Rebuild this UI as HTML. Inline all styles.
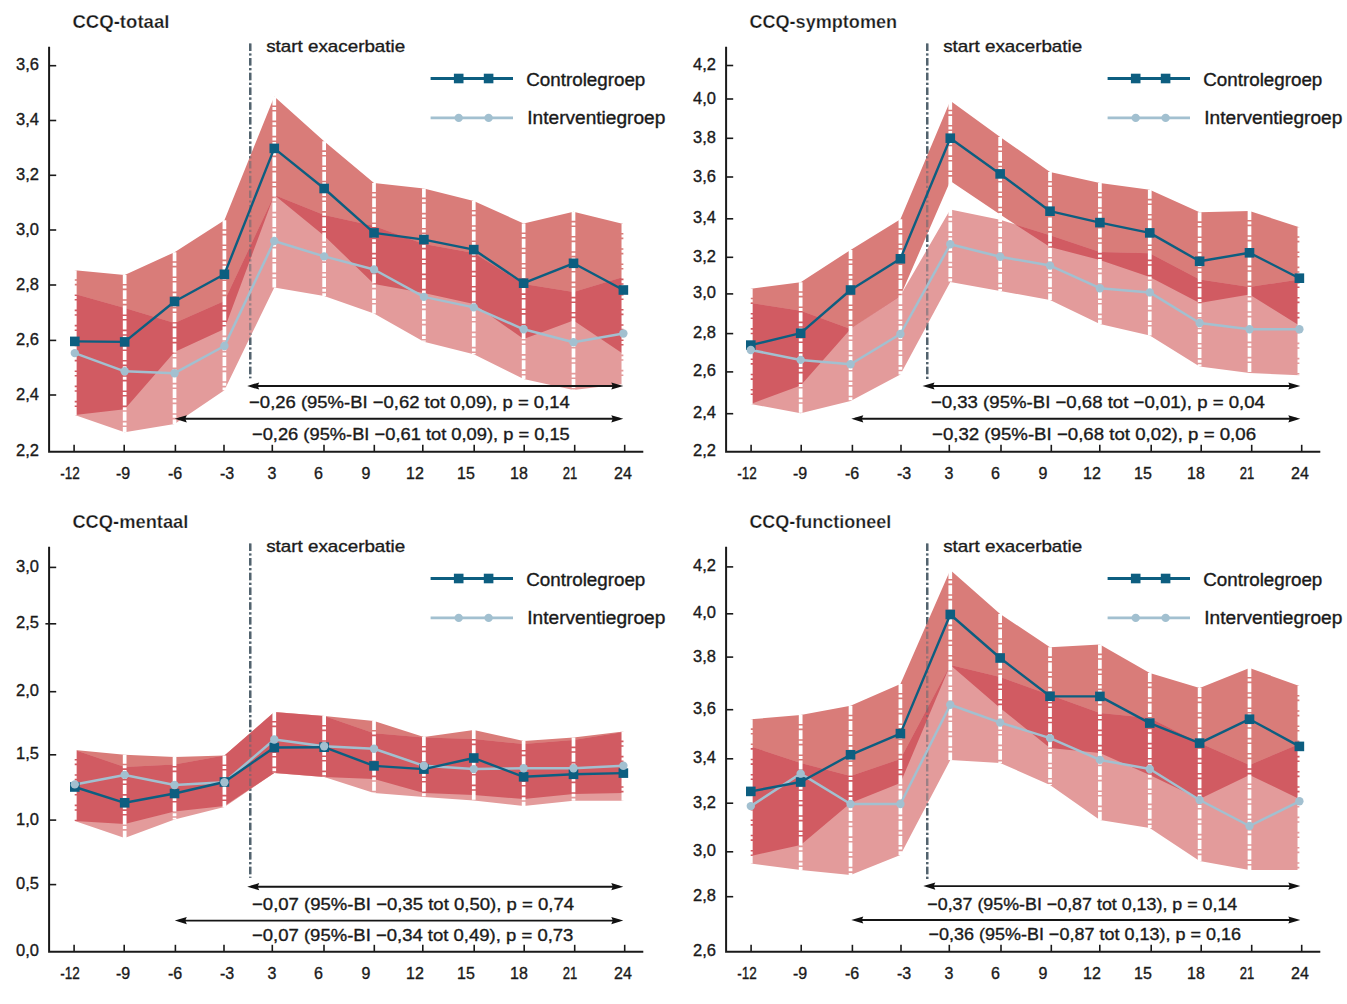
<!DOCTYPE html>
<html><head><meta charset="utf-8"><style>
html,body{margin:0;padding:0;background:#fff;}
svg{display:block;font-family:"Liberation Sans", sans-serif;}
</style></head><body>
<svg width="1347" height="1004" viewBox="0 0 1347 1004">
<rect width="1347" height="1004" fill="#fff"/>
<line x1="250.2" y1="43.4" x2="250.2" y2="378.3" stroke="#4f606c" stroke-width="2.4" stroke-dasharray="7.5 2.5 2.2 2.5"/>
<clipPath id="cb0"><polygon points="74.8,270.2 124.67,275 174.54,252.2 224.41,220.2 274.28,96.4 324.15,141.3 374.02,183 423.89,188.6 473.76,201 523.63,223.5 573.5,211.8 623.37,224 623.37,354 573.5,320.6 523.63,339 473.76,304 423.89,293 374.02,284 324.15,235.7 274.28,195 224.41,329 174.54,352 124.67,409.2 74.8,415"/></clipPath>
<polygon points="74.8,270.2 124.67,275 174.54,252.2 224.41,220.2 274.28,96.4 324.15,141.3 374.02,183 423.89,188.6 473.76,201 523.63,223.5 573.5,211.8 623.37,224 623.37,354 573.5,320.6 523.63,339 473.76,304 423.89,293 374.02,284 324.15,235.7 274.28,195 224.41,329 174.54,352 124.67,409.2 74.8,415" fill="#d97c79"/>
<polygon points="74.8,294 124.67,308 174.54,323 224.41,301 274.28,195 324.15,215 374.02,226 423.89,244 473.76,253 523.63,284 573.5,292 623.37,277 623.37,384 573.5,390 523.63,379 473.76,354.2 423.89,341.7 374.02,313.6 324.15,296 274.28,287.4 224.41,390.3 174.54,424.1 124.67,432.3 74.8,415" fill="#e39b9b"/>
<polygon points="74.8,294 124.67,308 174.54,323 224.41,301 274.28,195 324.15,215 374.02,226 423.89,244 473.76,253 523.63,284 573.5,292 623.37,277 623.37,384 573.5,390 523.63,379 473.76,354.2 423.89,341.7 374.02,313.6 324.15,296 274.28,287.4 224.41,390.3 174.54,424.1 124.67,432.3 74.8,415" fill="#d15b62" clip-path="url(#cb0)"/>
<line x1="250.2" y1="43.4" x2="250.2" y2="378.3" stroke="#56656f" stroke-opacity="0.5" stroke-width="2.4" stroke-dasharray="7.5 2.5 2.2 2.5"/>
<line x1="74.8" y1="270.2" x2="74.8" y2="415" stroke="#fff" stroke-width="3.7" stroke-dasharray="9 1.6 3 1.6"/>
<line x1="124.67" y1="275" x2="124.67" y2="432.3" stroke="#fff" stroke-width="3.7" stroke-dasharray="9 1.6 3 1.6"/>
<line x1="174.54" y1="252.2" x2="174.54" y2="424.1" stroke="#fff" stroke-width="3.7" stroke-dasharray="9 1.6 3 1.6"/>
<line x1="224.41" y1="220.2" x2="224.41" y2="390.3" stroke="#fff" stroke-width="3.7" stroke-dasharray="9 1.6 3 1.6"/>
<line x1="274.28" y1="96.4" x2="274.28" y2="287.4" stroke="#fff" stroke-width="3.7" stroke-dasharray="9 1.6 3 1.6"/>
<line x1="324.15" y1="141.3" x2="324.15" y2="296" stroke="#fff" stroke-width="3.7" stroke-dasharray="9 1.6 3 1.6"/>
<line x1="374.02" y1="183" x2="374.02" y2="313.6" stroke="#fff" stroke-width="3.7" stroke-dasharray="9 1.6 3 1.6"/>
<line x1="423.89" y1="188.6" x2="423.89" y2="341.7" stroke="#fff" stroke-width="3.7" stroke-dasharray="9 1.6 3 1.6"/>
<line x1="473.76" y1="201" x2="473.76" y2="354.2" stroke="#fff" stroke-width="3.7" stroke-dasharray="9 1.6 3 1.6"/>
<line x1="523.63" y1="223.5" x2="523.63" y2="379" stroke="#fff" stroke-width="3.7" stroke-dasharray="9 1.6 3 1.6"/>
<line x1="573.5" y1="211.8" x2="573.5" y2="390" stroke="#fff" stroke-width="3.7" stroke-dasharray="9 1.6 3 1.6"/>
<line x1="623.37" y1="224" x2="623.37" y2="384" stroke="#fff" stroke-width="3.7" stroke-dasharray="9 1.6 3 1.6"/>
<polyline points="74.8,353.1 124.67,371.3 174.54,373.2 224.41,346 274.28,241 324.15,256.4 374.02,269.5 423.89,296.9 473.76,307.4 523.63,329.3 573.5,342.2 623.37,333.5" fill="none" stroke="#a2c0d0" stroke-width="2.5" stroke-linejoin="round"/>
<polyline points="74.8,341.4 124.67,341.9 174.54,301.5 224.41,274.3 274.28,148.4 324.15,188.5 374.02,232.9 423.89,239.6 473.76,249.6 523.63,283.2 573.5,263.3 623.37,290" fill="none" stroke="#0d5e80" stroke-width="2.4" stroke-linejoin="round"/>
<rect x="70" y="336.6" width="9.6" height="9.6" fill="#0d5e80"/>
<rect x="119.87" y="337.1" width="9.6" height="9.6" fill="#0d5e80"/>
<rect x="169.74" y="296.7" width="9.6" height="9.6" fill="#0d5e80"/>
<rect x="219.61" y="269.5" width="9.6" height="9.6" fill="#0d5e80"/>
<rect x="269.48" y="143.6" width="9.6" height="9.6" fill="#0d5e80"/>
<rect x="319.35" y="183.7" width="9.6" height="9.6" fill="#0d5e80"/>
<rect x="369.22" y="228.1" width="9.6" height="9.6" fill="#0d5e80"/>
<rect x="419.09" y="234.8" width="9.6" height="9.6" fill="#0d5e80"/>
<rect x="468.96" y="244.8" width="9.6" height="9.6" fill="#0d5e80"/>
<rect x="518.83" y="278.4" width="9.6" height="9.6" fill="#0d5e80"/>
<rect x="568.7" y="258.5" width="9.6" height="9.6" fill="#0d5e80"/>
<rect x="618.57" y="285.2" width="9.6" height="9.6" fill="#0d5e80"/>
<circle cx="74.8" cy="353.1" r="4.2" fill="#a2c0d0"/>
<circle cx="124.67" cy="371.3" r="4.2" fill="#a2c0d0"/>
<circle cx="174.54" cy="373.2" r="4.2" fill="#a2c0d0"/>
<circle cx="224.41" cy="346" r="4.2" fill="#a2c0d0"/>
<circle cx="274.28" cy="241" r="4.2" fill="#a2c0d0"/>
<circle cx="324.15" cy="256.4" r="4.2" fill="#a2c0d0"/>
<circle cx="374.02" cy="269.5" r="4.2" fill="#a2c0d0"/>
<circle cx="423.89" cy="296.9" r="4.2" fill="#a2c0d0"/>
<circle cx="473.76" cy="307.4" r="4.2" fill="#a2c0d0"/>
<circle cx="523.63" cy="329.3" r="4.2" fill="#a2c0d0"/>
<circle cx="573.5" cy="342.2" r="4.2" fill="#a2c0d0"/>
<circle cx="623.37" cy="333.5" r="4.2" fill="#a2c0d0"/>
<line x1="251.2" y1="386" x2="619.3" y2="386" stroke="#151515" stroke-width="1.9"/>
<path d="M247.2 386l12 -3.6l-1.5 3.6l1.5 3.6z" fill="#111"/>
<path d="M623.3 386l-12 -3.6l1.5 3.6l-1.5 3.6z" fill="#111"/>
<text x="249.1" y="408" font-size="17" textLength="320.7" lengthAdjust="spacingAndGlyphs" fill="#1a1a1a" stroke="#1a1a1a" stroke-width="0.35">−0,26 (95%-BI −0,62 tot 0,09), p = 0,14</text>
<line x1="178.8" y1="418.8" x2="619.3" y2="418.8" stroke="#151515" stroke-width="1.9"/>
<path d="M174.8 418.8l12 -3.6l-1.5 3.6l1.5 3.6z" fill="#111"/>
<path d="M623.3 418.8l-12 -3.6l1.5 3.6l-1.5 3.6z" fill="#111"/>
<text x="252" y="439.5" font-size="17" textLength="317.8" lengthAdjust="spacingAndGlyphs" fill="#1a1a1a" stroke="#1a1a1a" stroke-width="0.35">−0,26 (95%-BI −0,61 tot 0,09), p = 0,15</text>
<line x1="927.2" y1="43.4" x2="927.2" y2="379" stroke="#4f606c" stroke-width="2.4" stroke-dasharray="7.5 2.5 2.2 2.5"/>
<clipPath id="cb1"><polygon points="750.8,288.7 800.67,282.2 850.54,249.9 900.41,219.3 950.28,100.7 1000.15,136.9 1050.02,171.9 1099.89,183 1149.76,189.8 1199.63,212.3 1249.5,211 1299.37,227.2 1299.37,325.5 1249.5,294.4 1199.63,303.1 1149.76,277 1099.89,260 1050.02,247 1000.15,214.6 950.28,180.9 900.41,296 850.54,329 800.67,385.5 750.8,404"/></clipPath>
<polygon points="750.8,288.7 800.67,282.2 850.54,249.9 900.41,219.3 950.28,100.7 1000.15,136.9 1050.02,171.9 1099.89,183 1149.76,189.8 1199.63,212.3 1249.5,211 1299.37,227.2 1299.37,325.5 1249.5,294.4 1199.63,303.1 1149.76,277 1099.89,260 1050.02,247 1000.15,214.6 950.28,180.9 900.41,296 850.54,329 800.67,385.5 750.8,404" fill="#d97c79"/>
<polygon points="750.8,302.9 800.67,310.7 850.54,329 900.41,295.5 950.28,209.4 1000.15,219.7 1050.02,235.3 1099.89,252 1149.76,253.3 1199.63,279.5 1249.5,287 1299.37,279.5 1299.37,375.3 1249.5,372.9 1199.63,366.6 1149.76,335.5 1099.89,324 1050.02,300 1000.15,290.9 950.28,281.9 900.41,374.5 850.54,401 800.67,413.3 750.8,404" fill="#e39b9b"/>
<polygon points="750.8,302.9 800.67,310.7 850.54,329 900.41,295.5 950.28,209.4 1000.15,219.7 1050.02,235.3 1099.89,252 1149.76,253.3 1199.63,279.5 1249.5,287 1299.37,279.5 1299.37,375.3 1249.5,372.9 1199.63,366.6 1149.76,335.5 1099.89,324 1050.02,300 1000.15,290.9 950.28,281.9 900.41,374.5 850.54,401 800.67,413.3 750.8,404" fill="#d15b62" clip-path="url(#cb1)"/>
<line x1="927.2" y1="43.4" x2="927.2" y2="379" stroke="#56656f" stroke-opacity="0.5" stroke-width="2.4" stroke-dasharray="7.5 2.5 2.2 2.5"/>
<line x1="750.8" y1="288.7" x2="750.8" y2="404" stroke="#fff" stroke-width="3.7" stroke-dasharray="9 1.6 3 1.6"/>
<line x1="800.67" y1="282.2" x2="800.67" y2="413.3" stroke="#fff" stroke-width="3.7" stroke-dasharray="9 1.6 3 1.6"/>
<line x1="850.54" y1="249.9" x2="850.54" y2="401" stroke="#fff" stroke-width="3.7" stroke-dasharray="9 1.6 3 1.6"/>
<line x1="900.41" y1="219.3" x2="900.41" y2="374.5" stroke="#fff" stroke-width="3.7" stroke-dasharray="9 1.6 3 1.6"/>
<line x1="950.28" y1="100.7" x2="950.28" y2="281.9" stroke="#fff" stroke-width="3.7" stroke-dasharray="9 1.6 3 1.6"/>
<line x1="1000.15" y1="136.9" x2="1000.15" y2="290.9" stroke="#fff" stroke-width="3.7" stroke-dasharray="9 1.6 3 1.6"/>
<line x1="1050.02" y1="171.9" x2="1050.02" y2="300" stroke="#fff" stroke-width="3.7" stroke-dasharray="9 1.6 3 1.6"/>
<line x1="1099.89" y1="183" x2="1099.89" y2="324" stroke="#fff" stroke-width="3.7" stroke-dasharray="9 1.6 3 1.6"/>
<line x1="1149.76" y1="189.8" x2="1149.76" y2="335.5" stroke="#fff" stroke-width="3.7" stroke-dasharray="9 1.6 3 1.6"/>
<line x1="1199.63" y1="212.3" x2="1199.63" y2="366.6" stroke="#fff" stroke-width="3.7" stroke-dasharray="9 1.6 3 1.6"/>
<line x1="1249.5" y1="211" x2="1249.5" y2="372.9" stroke="#fff" stroke-width="3.7" stroke-dasharray="9 1.6 3 1.6"/>
<line x1="1299.37" y1="227.2" x2="1299.37" y2="375.3" stroke="#fff" stroke-width="3.7" stroke-dasharray="9 1.6 3 1.6"/>
<polyline points="750.8,350 800.67,359.9 850.54,364.3 900.41,334 950.28,244.3 1000.15,256.8 1050.02,265.6 1099.89,288.2 1149.76,292.4 1199.63,323 1249.5,329.3 1299.37,329.3" fill="none" stroke="#a2c0d0" stroke-width="2.5" stroke-linejoin="round"/>
<polyline points="750.8,345.1 800.67,333.2 850.54,290 900.41,258.8 950.28,138.2 1000.15,173.9 1050.02,211.2 1099.89,222.6 1149.76,232.9 1199.63,261.3 1249.5,252.8 1299.37,278.2" fill="none" stroke="#0d5e80" stroke-width="2.4" stroke-linejoin="round"/>
<rect x="746" y="340.3" width="9.6" height="9.6" fill="#0d5e80"/>
<rect x="795.87" y="328.4" width="9.6" height="9.6" fill="#0d5e80"/>
<rect x="845.74" y="285.2" width="9.6" height="9.6" fill="#0d5e80"/>
<rect x="895.61" y="254" width="9.6" height="9.6" fill="#0d5e80"/>
<rect x="945.48" y="133.4" width="9.6" height="9.6" fill="#0d5e80"/>
<rect x="995.35" y="169.1" width="9.6" height="9.6" fill="#0d5e80"/>
<rect x="1045.22" y="206.4" width="9.6" height="9.6" fill="#0d5e80"/>
<rect x="1095.09" y="217.8" width="9.6" height="9.6" fill="#0d5e80"/>
<rect x="1144.96" y="228.1" width="9.6" height="9.6" fill="#0d5e80"/>
<rect x="1194.83" y="256.5" width="9.6" height="9.6" fill="#0d5e80"/>
<rect x="1244.7" y="248" width="9.6" height="9.6" fill="#0d5e80"/>
<rect x="1294.57" y="273.4" width="9.6" height="9.6" fill="#0d5e80"/>
<circle cx="750.8" cy="350" r="4.2" fill="#a2c0d0"/>
<circle cx="800.67" cy="359.9" r="4.2" fill="#a2c0d0"/>
<circle cx="850.54" cy="364.3" r="4.2" fill="#a2c0d0"/>
<circle cx="900.41" cy="334" r="4.2" fill="#a2c0d0"/>
<circle cx="950.28" cy="244.3" r="4.2" fill="#a2c0d0"/>
<circle cx="1000.15" cy="256.8" r="4.2" fill="#a2c0d0"/>
<circle cx="1050.02" cy="265.6" r="4.2" fill="#a2c0d0"/>
<circle cx="1099.89" cy="288.2" r="4.2" fill="#a2c0d0"/>
<circle cx="1149.76" cy="292.4" r="4.2" fill="#a2c0d0"/>
<circle cx="1199.63" cy="323" r="4.2" fill="#a2c0d0"/>
<circle cx="1249.5" cy="329.3" r="4.2" fill="#a2c0d0"/>
<circle cx="1299.37" cy="329.3" r="4.2" fill="#a2c0d0"/>
<line x1="926.5" y1="386" x2="1296.3" y2="386" stroke="#151515" stroke-width="1.9"/>
<path d="M922.5 386l12 -3.6l-1.5 3.6l1.5 3.6z" fill="#111"/>
<path d="M1300.3 386l-12 -3.6l1.5 3.6l-1.5 3.6z" fill="#111"/>
<text x="930.9" y="408" font-size="17" textLength="334" lengthAdjust="spacingAndGlyphs" fill="#1a1a1a" stroke="#1a1a1a" stroke-width="0.35">−0,33 (95%-BI −0,68 tot −0,01), p = 0,04</text>
<line x1="855.3" y1="418.8" x2="1296.3" y2="418.8" stroke="#151515" stroke-width="1.9"/>
<path d="M851.3 418.8l12 -3.6l-1.5 3.6l1.5 3.6z" fill="#111"/>
<path d="M1300.3 418.8l-12 -3.6l1.5 3.6l-1.5 3.6z" fill="#111"/>
<text x="932" y="439.5" font-size="17" textLength="324" lengthAdjust="spacingAndGlyphs" fill="#1a1a1a" stroke="#1a1a1a" stroke-width="0.35">−0,32 (95%-BI −0,68 tot 0,02), p = 0,06</text>
<line x1="250.2" y1="543.4" x2="250.2" y2="877.8" stroke="#4f606c" stroke-width="2.4" stroke-dasharray="7.5 2.5 2.2 2.5"/>
<clipPath id="cb2"><polygon points="74.8,750 124.67,754.7 174.54,757 224.41,755.4 274.28,712 324.15,716 374.02,721 423.89,737 473.76,730 523.63,741 573.5,737.6 623.37,731.6 623.37,793 573.5,794 523.63,799 473.76,795 423.89,793 374.02,779 324.15,777 274.28,773 224.41,806 174.54,811.5 124.67,824 74.8,821"/></clipPath>
<polygon points="74.8,750 124.67,754.7 174.54,757 224.41,755.4 274.28,712 324.15,716 374.02,721 423.89,737 473.76,730 523.63,741 573.5,737.6 623.37,731.6 623.37,793 573.5,794 523.63,799 473.76,795 423.89,793 374.02,779 324.15,777 274.28,773 224.41,806 174.54,811.5 124.67,824 74.8,821" fill="#d97c79"/>
<polygon points="74.8,750 124.67,767 174.54,764.5 224.41,755.4 274.28,712 324.15,716 374.02,733.3 423.89,737.5 473.76,739 523.63,744 573.5,740 623.37,732 623.37,800.7 573.5,800.7 523.63,806 473.76,800.5 423.89,797 374.02,793 324.15,777 274.28,773 224.41,807 174.54,819.5 124.67,838 74.8,821" fill="#e39b9b"/>
<polygon points="74.8,750 124.67,767 174.54,764.5 224.41,755.4 274.28,712 324.15,716 374.02,733.3 423.89,737.5 473.76,739 523.63,744 573.5,740 623.37,732 623.37,800.7 573.5,800.7 523.63,806 473.76,800.5 423.89,797 374.02,793 324.15,777 274.28,773 224.41,807 174.54,819.5 124.67,838 74.8,821" fill="#d15b62" clip-path="url(#cb2)"/>
<line x1="250.2" y1="543.4" x2="250.2" y2="877.8" stroke="#56656f" stroke-opacity="0.5" stroke-width="2.4" stroke-dasharray="7.5 2.5 2.2 2.5"/>
<line x1="74.8" y1="750" x2="74.8" y2="821" stroke="#fff" stroke-width="3.7" stroke-dasharray="9 1.6 3 1.6"/>
<line x1="124.67" y1="754.7" x2="124.67" y2="838" stroke="#fff" stroke-width="3.7" stroke-dasharray="9 1.6 3 1.6"/>
<line x1="174.54" y1="757" x2="174.54" y2="819.5" stroke="#fff" stroke-width="3.7" stroke-dasharray="9 1.6 3 1.6"/>
<line x1="224.41" y1="755.4" x2="224.41" y2="807" stroke="#fff" stroke-width="3.7" stroke-dasharray="9 1.6 3 1.6"/>
<line x1="274.28" y1="712" x2="274.28" y2="773" stroke="#fff" stroke-width="3.7" stroke-dasharray="9 1.6 3 1.6"/>
<line x1="324.15" y1="716" x2="324.15" y2="777" stroke="#fff" stroke-width="3.7" stroke-dasharray="9 1.6 3 1.6"/>
<line x1="374.02" y1="721" x2="374.02" y2="793" stroke="#fff" stroke-width="3.7" stroke-dasharray="9 1.6 3 1.6"/>
<line x1="423.89" y1="737" x2="423.89" y2="797" stroke="#fff" stroke-width="3.7" stroke-dasharray="9 1.6 3 1.6"/>
<line x1="473.76" y1="730" x2="473.76" y2="800.5" stroke="#fff" stroke-width="3.7" stroke-dasharray="9 1.6 3 1.6"/>
<line x1="523.63" y1="741" x2="523.63" y2="806" stroke="#fff" stroke-width="3.7" stroke-dasharray="9 1.6 3 1.6"/>
<line x1="573.5" y1="737.6" x2="573.5" y2="800.7" stroke="#fff" stroke-width="3.7" stroke-dasharray="9 1.6 3 1.6"/>
<line x1="623.37" y1="731.6" x2="623.37" y2="800.7" stroke="#fff" stroke-width="3.7" stroke-dasharray="9 1.6 3 1.6"/>
<polyline points="74.8,784.4 124.67,774.9 174.54,785 224.41,782.2 274.28,739.5 324.15,746.3 374.02,748.8 423.89,765.8 473.76,769.1 523.63,768.3 573.5,768.3 623.37,765.7" fill="none" stroke="#a2c0d0" stroke-width="2.5" stroke-linejoin="round"/>
<polyline points="74.8,787 124.67,802.8 174.54,793.5 224.41,782 274.28,747.5 324.15,747.2 374.02,765.9 423.89,769.1 473.76,758 523.63,776.8 573.5,774.3 623.37,773.1" fill="none" stroke="#0d5e80" stroke-width="2.4" stroke-linejoin="round"/>
<rect x="70" y="782.2" width="9.6" height="9.6" fill="#0d5e80"/>
<rect x="119.87" y="798" width="9.6" height="9.6" fill="#0d5e80"/>
<rect x="169.74" y="788.7" width="9.6" height="9.6" fill="#0d5e80"/>
<rect x="219.61" y="777.2" width="9.6" height="9.6" fill="#0d5e80"/>
<rect x="269.48" y="742.7" width="9.6" height="9.6" fill="#0d5e80"/>
<rect x="319.35" y="742.4" width="9.6" height="9.6" fill="#0d5e80"/>
<rect x="369.22" y="761.1" width="9.6" height="9.6" fill="#0d5e80"/>
<rect x="419.09" y="764.3" width="9.6" height="9.6" fill="#0d5e80"/>
<rect x="468.96" y="753.2" width="9.6" height="9.6" fill="#0d5e80"/>
<rect x="518.83" y="772" width="9.6" height="9.6" fill="#0d5e80"/>
<rect x="568.7" y="769.5" width="9.6" height="9.6" fill="#0d5e80"/>
<rect x="618.57" y="768.3" width="9.6" height="9.6" fill="#0d5e80"/>
<circle cx="74.8" cy="784.4" r="4.2" fill="#a2c0d0"/>
<circle cx="124.67" cy="774.9" r="4.2" fill="#a2c0d0"/>
<circle cx="174.54" cy="785" r="4.2" fill="#a2c0d0"/>
<circle cx="224.41" cy="782.2" r="4.2" fill="#a2c0d0"/>
<circle cx="274.28" cy="739.5" r="4.2" fill="#a2c0d0"/>
<circle cx="324.15" cy="746.3" r="4.2" fill="#a2c0d0"/>
<circle cx="374.02" cy="748.8" r="4.2" fill="#a2c0d0"/>
<circle cx="423.89" cy="765.8" r="4.2" fill="#a2c0d0"/>
<circle cx="473.76" cy="769.1" r="4.2" fill="#a2c0d0"/>
<circle cx="523.63" cy="768.3" r="4.2" fill="#a2c0d0"/>
<circle cx="573.5" cy="768.3" r="4.2" fill="#a2c0d0"/>
<circle cx="623.37" cy="765.7" r="4.2" fill="#a2c0d0"/>
<line x1="251.2" y1="886.7" x2="619.3" y2="886.7" stroke="#151515" stroke-width="1.9"/>
<path d="M247.2 886.7l12 -3.6l-1.5 3.6l1.5 3.6z" fill="#111"/>
<path d="M623.3 886.7l-12 -3.6l1.5 3.6l-1.5 3.6z" fill="#111"/>
<text x="252" y="910" font-size="17" textLength="322" lengthAdjust="spacingAndGlyphs" fill="#1a1a1a" stroke="#1a1a1a" stroke-width="0.35">−0,07 (95%-BI −0,35 tot 0,50), p = 0,74</text>
<line x1="178.8" y1="920.6" x2="619.3" y2="920.6" stroke="#151515" stroke-width="1.9"/>
<path d="M174.8 920.6l12 -3.6l-1.5 3.6l1.5 3.6z" fill="#111"/>
<path d="M623.3 920.6l-12 -3.6l1.5 3.6l-1.5 3.6z" fill="#111"/>
<text x="252" y="940.5" font-size="17" textLength="321.4" lengthAdjust="spacingAndGlyphs" fill="#1a1a1a" stroke="#1a1a1a" stroke-width="0.35">−0,07 (95%-BI −0,34 tot 0,49), p = 0,73</text>
<line x1="927.2" y1="543.4" x2="927.2" y2="879" stroke="#4f606c" stroke-width="2.4" stroke-dasharray="7.5 2.5 2.2 2.5"/>
<clipPath id="cb3"><polygon points="750.8,719.3 800.67,715 850.54,705.7 900.41,684 950.28,570 1000.15,614 1050.02,647.3 1099.89,644.6 1149.76,673 1199.63,688 1249.5,668 1299.37,686 1299.37,799 1249.5,775 1199.63,799 1149.76,775 1099.89,753 1050.02,748 1000.15,708 950.28,665 900.41,783 850.54,803 800.67,845 750.8,856"/></clipPath>
<polygon points="750.8,719.3 800.67,715 850.54,705.7 900.41,684 950.28,570 1000.15,614 1050.02,647.3 1099.89,644.6 1149.76,673 1199.63,688 1249.5,668 1299.37,686 1299.37,799 1249.5,775 1199.63,799 1149.76,775 1099.89,753 1050.02,748 1000.15,708 950.28,665 900.41,783 850.54,803 800.67,845 750.8,856" fill="#d97c79"/>
<polygon points="750.8,746.5 800.67,763 850.54,776 900.41,759 950.28,665 1000.15,677 1050.02,695 1099.89,713 1149.76,718 1199.63,743 1249.5,765 1299.37,744 1299.37,870 1249.5,870 1199.63,861 1149.76,828 1099.89,820 1050.02,785 1000.15,763 950.28,760 900.41,855 850.54,875 800.67,870 750.8,863.6" fill="#e39b9b"/>
<polygon points="750.8,746.5 800.67,763 850.54,776 900.41,759 950.28,665 1000.15,677 1050.02,695 1099.89,713 1149.76,718 1199.63,743 1249.5,765 1299.37,744 1299.37,870 1249.5,870 1199.63,861 1149.76,828 1099.89,820 1050.02,785 1000.15,763 950.28,760 900.41,855 850.54,875 800.67,870 750.8,863.6" fill="#d15b62" clip-path="url(#cb3)"/>
<line x1="927.2" y1="543.4" x2="927.2" y2="879" stroke="#56656f" stroke-opacity="0.5" stroke-width="2.4" stroke-dasharray="7.5 2.5 2.2 2.5"/>
<line x1="750.8" y1="719.3" x2="750.8" y2="863.6" stroke="#fff" stroke-width="3.7" stroke-dasharray="9 1.6 3 1.6"/>
<line x1="800.67" y1="715" x2="800.67" y2="870" stroke="#fff" stroke-width="3.7" stroke-dasharray="9 1.6 3 1.6"/>
<line x1="850.54" y1="705.7" x2="850.54" y2="875" stroke="#fff" stroke-width="3.7" stroke-dasharray="9 1.6 3 1.6"/>
<line x1="900.41" y1="684" x2="900.41" y2="855" stroke="#fff" stroke-width="3.7" stroke-dasharray="9 1.6 3 1.6"/>
<line x1="950.28" y1="570" x2="950.28" y2="760" stroke="#fff" stroke-width="3.7" stroke-dasharray="9 1.6 3 1.6"/>
<line x1="1000.15" y1="614" x2="1000.15" y2="763" stroke="#fff" stroke-width="3.7" stroke-dasharray="9 1.6 3 1.6"/>
<line x1="1050.02" y1="647.3" x2="1050.02" y2="785" stroke="#fff" stroke-width="3.7" stroke-dasharray="9 1.6 3 1.6"/>
<line x1="1099.89" y1="644.6" x2="1099.89" y2="820" stroke="#fff" stroke-width="3.7" stroke-dasharray="9 1.6 3 1.6"/>
<line x1="1149.76" y1="673" x2="1149.76" y2="828" stroke="#fff" stroke-width="3.7" stroke-dasharray="9 1.6 3 1.6"/>
<line x1="1199.63" y1="688" x2="1199.63" y2="861" stroke="#fff" stroke-width="3.7" stroke-dasharray="9 1.6 3 1.6"/>
<line x1="1249.5" y1="668" x2="1249.5" y2="870" stroke="#fff" stroke-width="3.7" stroke-dasharray="9 1.6 3 1.6"/>
<line x1="1299.37" y1="686" x2="1299.37" y2="870" stroke="#fff" stroke-width="3.7" stroke-dasharray="9 1.6 3 1.6"/>
<polyline points="750.8,806.1 800.67,773.6 850.54,804 900.41,804 950.28,704.7 1000.15,722.6 1050.02,738.1 1099.89,759.9 1149.76,769 1199.63,800 1249.5,826 1299.37,801.3" fill="none" stroke="#a2c0d0" stroke-width="2.5" stroke-linejoin="round"/>
<polyline points="750.8,791.4 800.67,782 850.54,754.8 900.41,733.6 950.28,614.5 1000.15,658 1050.02,696.3 1099.89,696.4 1149.76,723.1 1199.63,743.1 1249.5,719.2 1299.37,746.4" fill="none" stroke="#0d5e80" stroke-width="2.4" stroke-linejoin="round"/>
<rect x="746" y="786.6" width="9.6" height="9.6" fill="#0d5e80"/>
<rect x="795.87" y="777.2" width="9.6" height="9.6" fill="#0d5e80"/>
<rect x="845.74" y="750" width="9.6" height="9.6" fill="#0d5e80"/>
<rect x="895.61" y="728.8" width="9.6" height="9.6" fill="#0d5e80"/>
<rect x="945.48" y="609.7" width="9.6" height="9.6" fill="#0d5e80"/>
<rect x="995.35" y="653.2" width="9.6" height="9.6" fill="#0d5e80"/>
<rect x="1045.22" y="691.5" width="9.6" height="9.6" fill="#0d5e80"/>
<rect x="1095.09" y="691.6" width="9.6" height="9.6" fill="#0d5e80"/>
<rect x="1144.96" y="718.3" width="9.6" height="9.6" fill="#0d5e80"/>
<rect x="1194.83" y="738.3" width="9.6" height="9.6" fill="#0d5e80"/>
<rect x="1244.7" y="714.4" width="9.6" height="9.6" fill="#0d5e80"/>
<rect x="1294.57" y="741.6" width="9.6" height="9.6" fill="#0d5e80"/>
<circle cx="750.8" cy="806.1" r="4.2" fill="#a2c0d0"/>
<circle cx="800.67" cy="773.6" r="4.2" fill="#a2c0d0"/>
<circle cx="850.54" cy="804" r="4.2" fill="#a2c0d0"/>
<circle cx="900.41" cy="804" r="4.2" fill="#a2c0d0"/>
<circle cx="950.28" cy="704.7" r="4.2" fill="#a2c0d0"/>
<circle cx="1000.15" cy="722.6" r="4.2" fill="#a2c0d0"/>
<circle cx="1050.02" cy="738.1" r="4.2" fill="#a2c0d0"/>
<circle cx="1099.89" cy="759.9" r="4.2" fill="#a2c0d0"/>
<circle cx="1149.76" cy="769" r="4.2" fill="#a2c0d0"/>
<circle cx="1199.63" cy="800" r="4.2" fill="#a2c0d0"/>
<circle cx="1249.5" cy="826" r="4.2" fill="#a2c0d0"/>
<circle cx="1299.37" cy="801.3" r="4.2" fill="#a2c0d0"/>
<line x1="927.3" y1="886.1" x2="1296.3" y2="886.1" stroke="#151515" stroke-width="1.9"/>
<path d="M923.3 886.1l12 -3.6l-1.5 3.6l1.5 3.6z" fill="#111"/>
<path d="M1300.3 886.1l-12 -3.6l1.5 3.6l-1.5 3.6z" fill="#111"/>
<text x="927.3" y="910" font-size="17" textLength="310" lengthAdjust="spacingAndGlyphs" fill="#1a1a1a" stroke="#1a1a1a" stroke-width="0.35">−0,37 (95%-BI −0,87 tot 0,13), p = 0,14</text>
<line x1="855.3" y1="920" x2="1296.3" y2="920" stroke="#151515" stroke-width="1.9"/>
<path d="M851.3 920l12 -3.6l-1.5 3.6l1.5 3.6z" fill="#111"/>
<path d="M1300.3 920l-12 -3.6l1.5 3.6l-1.5 3.6z" fill="#111"/>
<text x="928.4" y="939.5" font-size="17" textLength="312.5" lengthAdjust="spacingAndGlyphs" fill="#1a1a1a" stroke="#1a1a1a" stroke-width="0.35">−0,36 (95%-BI −0,87 tot 0,13), p = 0,16</text>
<g transform="translate(0,0)">
<text x="72.4" y="28.3" font-size="17.5" font-weight="bold" textLength="97" lengthAdjust="spacingAndGlyphs" fill="#1a1a1a" stroke="#fff" stroke-width="0.25">CCQ-totaal</text>
<text x="266.2" y="51.7" font-size="17" textLength="139" lengthAdjust="spacingAndGlyphs" fill="#1a1a1a" stroke="#1a1a1a" stroke-width="0.35">start exacerbatie</text>
<line x1="430.6" y1="78.5" x2="513" y2="78.5" stroke="#0d5e80" stroke-width="2.8"/>
<rect x="453.9" y="73.7" width="9.6" height="9.6" fill="#0d5e80"/>
<rect x="483.8" y="73.7" width="9.6" height="9.6" fill="#0d5e80"/>
<line x1="430.6" y1="117.9" x2="513" y2="117.9" stroke="#a2c0d0" stroke-width="2.8"/>
<circle cx="458.7" cy="117.9" r="4.2" fill="#a2c0d0"/>
<circle cx="488.6" cy="117.9" r="4.2" fill="#a2c0d0"/>
<text x="526.3" y="85.6" font-size="17.5" textLength="119" lengthAdjust="spacingAndGlyphs" fill="#1a1a1a" stroke="#1a1a1a" stroke-width="0.35">Controlegroep</text>
<text x="527.3" y="124.2" font-size="17.5" textLength="138" lengthAdjust="spacingAndGlyphs" fill="#1a1a1a" stroke="#1a1a1a" stroke-width="0.35">Interventiegroep</text>
<path d="M49.1 46.7V451.8H643.3" fill="none" stroke="#1a1a1a" stroke-width="2"/>
<line x1="49.1" y1="65.7" x2="56.2" y2="65.7" stroke="#1a1a1a" stroke-width="1.6"/>
<text x="39" y="70.2" font-size="16.5" text-anchor="end" fill="#1a1a1a" stroke="#1a1a1a" stroke-width="0.35">3,6</text>
<line x1="49.1" y1="120.5" x2="56.2" y2="120.5" stroke="#1a1a1a" stroke-width="1.6"/>
<text x="39" y="125" font-size="16.5" text-anchor="end" fill="#1a1a1a" stroke="#1a1a1a" stroke-width="0.35">3,4</text>
<line x1="49.1" y1="175.3" x2="56.2" y2="175.3" stroke="#1a1a1a" stroke-width="1.6"/>
<text x="39" y="179.8" font-size="16.5" text-anchor="end" fill="#1a1a1a" stroke="#1a1a1a" stroke-width="0.35">3,2</text>
<line x1="49.1" y1="230" x2="56.2" y2="230" stroke="#1a1a1a" stroke-width="1.6"/>
<text x="39" y="234.5" font-size="16.5" text-anchor="end" fill="#1a1a1a" stroke="#1a1a1a" stroke-width="0.35">3,0</text>
<line x1="49.1" y1="285" x2="56.2" y2="285" stroke="#1a1a1a" stroke-width="1.6"/>
<text x="39" y="289.5" font-size="16.5" text-anchor="end" fill="#1a1a1a" stroke="#1a1a1a" stroke-width="0.35">2,8</text>
<line x1="49.1" y1="340.4" x2="56.2" y2="340.4" stroke="#1a1a1a" stroke-width="1.6"/>
<text x="39" y="344.9" font-size="16.5" text-anchor="end" fill="#1a1a1a" stroke="#1a1a1a" stroke-width="0.35">2,6</text>
<line x1="49.1" y1="395" x2="56.2" y2="395" stroke="#1a1a1a" stroke-width="1.6"/>
<text x="39" y="399.5" font-size="16.5" text-anchor="end" fill="#1a1a1a" stroke="#1a1a1a" stroke-width="0.35">2,4</text>
<text x="39" y="456.3" font-size="16.5" text-anchor="end" fill="#1a1a1a" stroke="#1a1a1a" stroke-width="0.35">2,2</text>
<line x1="74.1" y1="444.8" x2="74.1" y2="451.8" stroke="#1a1a1a" stroke-width="1.6"/>
<line x1="124.2" y1="444.8" x2="124.2" y2="451.8" stroke="#1a1a1a" stroke-width="1.6"/>
<line x1="175.4" y1="444.8" x2="175.4" y2="451.8" stroke="#1a1a1a" stroke-width="1.6"/>
<line x1="224" y1="444.8" x2="224" y2="451.8" stroke="#1a1a1a" stroke-width="1.6"/>
<line x1="272.3" y1="444.8" x2="272.3" y2="451.8" stroke="#1a1a1a" stroke-width="1.6"/>
<line x1="324" y1="444.8" x2="324" y2="451.8" stroke="#1a1a1a" stroke-width="1.6"/>
<line x1="374.3" y1="444.8" x2="374.3" y2="451.8" stroke="#1a1a1a" stroke-width="1.6"/>
<line x1="422.8" y1="444.8" x2="422.8" y2="451.8" stroke="#1a1a1a" stroke-width="1.6"/>
<line x1="474.2" y1="444.8" x2="474.2" y2="451.8" stroke="#1a1a1a" stroke-width="1.6"/>
<line x1="524.2" y1="444.8" x2="524.2" y2="451.8" stroke="#1a1a1a" stroke-width="1.6"/>
<line x1="574.7" y1="444.8" x2="574.7" y2="451.8" stroke="#1a1a1a" stroke-width="1.6"/>
<line x1="624.7" y1="444.8" x2="624.7" y2="451.8" stroke="#1a1a1a" stroke-width="1.6"/>
<text x="60.25" y="478.5" font-size="16" textLength="19.5" lengthAdjust="spacingAndGlyphs" fill="#1a1a1a" stroke="#1a1a1a" stroke-width="0.35">-12</text>
<text x="123" y="478.5" font-size="16" text-anchor="middle" fill="#1a1a1a" stroke="#1a1a1a" stroke-width="0.35">-9</text>
<text x="175" y="478.5" font-size="16" text-anchor="middle" fill="#1a1a1a" stroke="#1a1a1a" stroke-width="0.35">-6</text>
<text x="227" y="478.5" font-size="16" text-anchor="middle" fill="#1a1a1a" stroke="#1a1a1a" stroke-width="0.35">-3</text>
<text x="272" y="478.5" font-size="16" text-anchor="middle" fill="#1a1a1a" stroke="#1a1a1a" stroke-width="0.35">3</text>
<text x="318.5" y="478.5" font-size="16" text-anchor="middle" fill="#1a1a1a" stroke="#1a1a1a" stroke-width="0.35">6</text>
<text x="366" y="478.5" font-size="16" text-anchor="middle" fill="#1a1a1a" stroke="#1a1a1a" stroke-width="0.35">9</text>
<text x="415" y="478.5" font-size="16" text-anchor="middle" fill="#1a1a1a" stroke="#1a1a1a" stroke-width="0.35">12</text>
<text x="466" y="478.5" font-size="16" text-anchor="middle" fill="#1a1a1a" stroke="#1a1a1a" stroke-width="0.35">15</text>
<text x="519" y="478.5" font-size="16" text-anchor="middle" fill="#1a1a1a" stroke="#1a1a1a" stroke-width="0.35">18</text>
<text x="562.75" y="478.5" font-size="16" textLength="14.5" lengthAdjust="spacingAndGlyphs" fill="#1a1a1a" stroke="#1a1a1a" stroke-width="0.35">21</text>
<text x="623" y="478.5" font-size="16" text-anchor="middle" fill="#1a1a1a" stroke="#1a1a1a" stroke-width="0.35">24</text>
</g>
<g transform="translate(677,0)">
<text x="72.4" y="28.3" font-size="17.5" font-weight="bold" textLength="147.7" lengthAdjust="spacingAndGlyphs" fill="#1a1a1a" stroke="#fff" stroke-width="0.25">CCQ-symptomen</text>
<text x="266.2" y="51.7" font-size="17" textLength="139" lengthAdjust="spacingAndGlyphs" fill="#1a1a1a" stroke="#1a1a1a" stroke-width="0.35">start exacerbatie</text>
<line x1="430.6" y1="78.5" x2="513" y2="78.5" stroke="#0d5e80" stroke-width="2.8"/>
<rect x="453.9" y="73.7" width="9.6" height="9.6" fill="#0d5e80"/>
<rect x="483.8" y="73.7" width="9.6" height="9.6" fill="#0d5e80"/>
<line x1="430.6" y1="117.9" x2="513" y2="117.9" stroke="#a2c0d0" stroke-width="2.8"/>
<circle cx="458.7" cy="117.9" r="4.2" fill="#a2c0d0"/>
<circle cx="488.6" cy="117.9" r="4.2" fill="#a2c0d0"/>
<text x="526.3" y="85.6" font-size="17.5" textLength="119" lengthAdjust="spacingAndGlyphs" fill="#1a1a1a" stroke="#1a1a1a" stroke-width="0.35">Controlegroep</text>
<text x="527.3" y="124.2" font-size="17.5" textLength="138" lengthAdjust="spacingAndGlyphs" fill="#1a1a1a" stroke="#1a1a1a" stroke-width="0.35">Interventiegroep</text>
<path d="M49.1 46.7V451.8H643.3" fill="none" stroke="#1a1a1a" stroke-width="2"/>
<line x1="49.1" y1="65.5" x2="56.2" y2="65.5" stroke="#1a1a1a" stroke-width="1.6"/>
<text x="39" y="70" font-size="16.5" text-anchor="end" fill="#1a1a1a" stroke="#1a1a1a" stroke-width="0.35">4,2</text>
<line x1="49.1" y1="99" x2="56.2" y2="99" stroke="#1a1a1a" stroke-width="1.6"/>
<text x="39" y="103.5" font-size="16.5" text-anchor="end" fill="#1a1a1a" stroke="#1a1a1a" stroke-width="0.35">4,0</text>
<line x1="49.1" y1="138.3" x2="56.2" y2="138.3" stroke="#1a1a1a" stroke-width="1.6"/>
<text x="39" y="142.8" font-size="16.5" text-anchor="end" fill="#1a1a1a" stroke="#1a1a1a" stroke-width="0.35">3,8</text>
<line x1="49.1" y1="177" x2="56.2" y2="177" stroke="#1a1a1a" stroke-width="1.6"/>
<text x="39" y="181.5" font-size="16.5" text-anchor="end" fill="#1a1a1a" stroke="#1a1a1a" stroke-width="0.35">3,6</text>
<line x1="49.1" y1="218.8" x2="56.2" y2="218.8" stroke="#1a1a1a" stroke-width="1.6"/>
<text x="39" y="223.3" font-size="16.5" text-anchor="end" fill="#1a1a1a" stroke="#1a1a1a" stroke-width="0.35">3,4</text>
<line x1="49.1" y1="257.3" x2="56.2" y2="257.3" stroke="#1a1a1a" stroke-width="1.6"/>
<text x="39" y="261.8" font-size="16.5" text-anchor="end" fill="#1a1a1a" stroke="#1a1a1a" stroke-width="0.35">3,2</text>
<line x1="49.1" y1="293.9" x2="56.2" y2="293.9" stroke="#1a1a1a" stroke-width="1.6"/>
<text x="39" y="298.4" font-size="16.5" text-anchor="end" fill="#1a1a1a" stroke="#1a1a1a" stroke-width="0.35">3,0</text>
<line x1="49.1" y1="333.6" x2="56.2" y2="333.6" stroke="#1a1a1a" stroke-width="1.6"/>
<text x="39" y="338.1" font-size="16.5" text-anchor="end" fill="#1a1a1a" stroke="#1a1a1a" stroke-width="0.35">2,8</text>
<line x1="49.1" y1="371.9" x2="56.2" y2="371.9" stroke="#1a1a1a" stroke-width="1.6"/>
<text x="39" y="376.4" font-size="16.5" text-anchor="end" fill="#1a1a1a" stroke="#1a1a1a" stroke-width="0.35">2,6</text>
<line x1="49.1" y1="413.7" x2="56.2" y2="413.7" stroke="#1a1a1a" stroke-width="1.6"/>
<text x="39" y="418.2" font-size="16.5" text-anchor="end" fill="#1a1a1a" stroke="#1a1a1a" stroke-width="0.35">2,4</text>
<text x="39" y="456.3" font-size="16.5" text-anchor="end" fill="#1a1a1a" stroke="#1a1a1a" stroke-width="0.35">2,2</text>
<line x1="74.1" y1="444.8" x2="74.1" y2="451.8" stroke="#1a1a1a" stroke-width="1.6"/>
<line x1="124.2" y1="444.8" x2="124.2" y2="451.8" stroke="#1a1a1a" stroke-width="1.6"/>
<line x1="175.4" y1="444.8" x2="175.4" y2="451.8" stroke="#1a1a1a" stroke-width="1.6"/>
<line x1="224" y1="444.8" x2="224" y2="451.8" stroke="#1a1a1a" stroke-width="1.6"/>
<line x1="272.3" y1="444.8" x2="272.3" y2="451.8" stroke="#1a1a1a" stroke-width="1.6"/>
<line x1="324" y1="444.8" x2="324" y2="451.8" stroke="#1a1a1a" stroke-width="1.6"/>
<line x1="374.3" y1="444.8" x2="374.3" y2="451.8" stroke="#1a1a1a" stroke-width="1.6"/>
<line x1="422.8" y1="444.8" x2="422.8" y2="451.8" stroke="#1a1a1a" stroke-width="1.6"/>
<line x1="474.2" y1="444.8" x2="474.2" y2="451.8" stroke="#1a1a1a" stroke-width="1.6"/>
<line x1="524.2" y1="444.8" x2="524.2" y2="451.8" stroke="#1a1a1a" stroke-width="1.6"/>
<line x1="574.7" y1="444.8" x2="574.7" y2="451.8" stroke="#1a1a1a" stroke-width="1.6"/>
<line x1="624.7" y1="444.8" x2="624.7" y2="451.8" stroke="#1a1a1a" stroke-width="1.6"/>
<text x="60.25" y="478.5" font-size="16" textLength="19.5" lengthAdjust="spacingAndGlyphs" fill="#1a1a1a" stroke="#1a1a1a" stroke-width="0.35">-12</text>
<text x="123" y="478.5" font-size="16" text-anchor="middle" fill="#1a1a1a" stroke="#1a1a1a" stroke-width="0.35">-9</text>
<text x="175" y="478.5" font-size="16" text-anchor="middle" fill="#1a1a1a" stroke="#1a1a1a" stroke-width="0.35">-6</text>
<text x="227" y="478.5" font-size="16" text-anchor="middle" fill="#1a1a1a" stroke="#1a1a1a" stroke-width="0.35">-3</text>
<text x="272" y="478.5" font-size="16" text-anchor="middle" fill="#1a1a1a" stroke="#1a1a1a" stroke-width="0.35">3</text>
<text x="318.5" y="478.5" font-size="16" text-anchor="middle" fill="#1a1a1a" stroke="#1a1a1a" stroke-width="0.35">6</text>
<text x="366" y="478.5" font-size="16" text-anchor="middle" fill="#1a1a1a" stroke="#1a1a1a" stroke-width="0.35">9</text>
<text x="415" y="478.5" font-size="16" text-anchor="middle" fill="#1a1a1a" stroke="#1a1a1a" stroke-width="0.35">12</text>
<text x="466" y="478.5" font-size="16" text-anchor="middle" fill="#1a1a1a" stroke="#1a1a1a" stroke-width="0.35">15</text>
<text x="519" y="478.5" font-size="16" text-anchor="middle" fill="#1a1a1a" stroke="#1a1a1a" stroke-width="0.35">18</text>
<text x="562.75" y="478.5" font-size="16" textLength="14.5" lengthAdjust="spacingAndGlyphs" fill="#1a1a1a" stroke="#1a1a1a" stroke-width="0.35">21</text>
<text x="623" y="478.5" font-size="16" text-anchor="middle" fill="#1a1a1a" stroke="#1a1a1a" stroke-width="0.35">24</text>
</g>
<g transform="translate(0,500)">
<text x="72.4" y="28.3" font-size="17.5" font-weight="bold" textLength="116" lengthAdjust="spacingAndGlyphs" fill="#1a1a1a" stroke="#fff" stroke-width="0.25">CCQ-mentaal</text>
<text x="266.2" y="51.7" font-size="17" textLength="139" lengthAdjust="spacingAndGlyphs" fill="#1a1a1a" stroke="#1a1a1a" stroke-width="0.35">start exacerbatie</text>
<line x1="430.6" y1="78.5" x2="513" y2="78.5" stroke="#0d5e80" stroke-width="2.8"/>
<rect x="453.9" y="73.7" width="9.6" height="9.6" fill="#0d5e80"/>
<rect x="483.8" y="73.7" width="9.6" height="9.6" fill="#0d5e80"/>
<line x1="430.6" y1="117.9" x2="513" y2="117.9" stroke="#a2c0d0" stroke-width="2.8"/>
<circle cx="458.7" cy="117.9" r="4.2" fill="#a2c0d0"/>
<circle cx="488.6" cy="117.9" r="4.2" fill="#a2c0d0"/>
<text x="526.3" y="85.6" font-size="17.5" textLength="119" lengthAdjust="spacingAndGlyphs" fill="#1a1a1a" stroke="#1a1a1a" stroke-width="0.35">Controlegroep</text>
<text x="527.3" y="124.2" font-size="17.5" textLength="138" lengthAdjust="spacingAndGlyphs" fill="#1a1a1a" stroke="#1a1a1a" stroke-width="0.35">Interventiegroep</text>
<path d="M49.1 46.7V451.8H643.3" fill="none" stroke="#1a1a1a" stroke-width="2"/>
<line x1="49.1" y1="67.4" x2="56.2" y2="67.4" stroke="#1a1a1a" stroke-width="1.6"/>
<text x="39" y="71.9" font-size="16.5" text-anchor="end" fill="#1a1a1a" stroke="#1a1a1a" stroke-width="0.35">3,0</text>
<line x1="45.4" y1="123.8" x2="56.2" y2="123.8" stroke="#1a1a1a" stroke-width="1.6"/>
<text x="39" y="128.3" font-size="16.5" text-anchor="end" fill="#1a1a1a" stroke="#1a1a1a" stroke-width="0.35">2,5</text>
<line x1="49.1" y1="191.7" x2="56.2" y2="191.7" stroke="#1a1a1a" stroke-width="1.6"/>
<text x="39" y="196.2" font-size="16.5" text-anchor="end" fill="#1a1a1a" stroke="#1a1a1a" stroke-width="0.35">2,0</text>
<line x1="49.1" y1="254.8" x2="56.2" y2="254.8" stroke="#1a1a1a" stroke-width="1.6"/>
<text x="39" y="259.3" font-size="16.5" text-anchor="end" fill="#1a1a1a" stroke="#1a1a1a" stroke-width="0.35">1,5</text>
<line x1="49.1" y1="320.1" x2="56.2" y2="320.1" stroke="#1a1a1a" stroke-width="1.6"/>
<text x="39" y="324.6" font-size="16.5" text-anchor="end" fill="#1a1a1a" stroke="#1a1a1a" stroke-width="0.35">1,0</text>
<line x1="49.1" y1="384.6" x2="56.2" y2="384.6" stroke="#1a1a1a" stroke-width="1.6"/>
<text x="39" y="389.1" font-size="16.5" text-anchor="end" fill="#1a1a1a" stroke="#1a1a1a" stroke-width="0.35">0,5</text>
<text x="39" y="456.1" font-size="16.5" text-anchor="end" fill="#1a1a1a" stroke="#1a1a1a" stroke-width="0.35">0,0</text>
<line x1="74.1" y1="444.8" x2="74.1" y2="451.8" stroke="#1a1a1a" stroke-width="1.6"/>
<line x1="124.2" y1="444.8" x2="124.2" y2="451.8" stroke="#1a1a1a" stroke-width="1.6"/>
<line x1="175.4" y1="444.8" x2="175.4" y2="451.8" stroke="#1a1a1a" stroke-width="1.6"/>
<line x1="224" y1="444.8" x2="224" y2="451.8" stroke="#1a1a1a" stroke-width="1.6"/>
<line x1="272.3" y1="444.8" x2="272.3" y2="451.8" stroke="#1a1a1a" stroke-width="1.6"/>
<line x1="324" y1="444.8" x2="324" y2="451.8" stroke="#1a1a1a" stroke-width="1.6"/>
<line x1="374.3" y1="444.8" x2="374.3" y2="451.8" stroke="#1a1a1a" stroke-width="1.6"/>
<line x1="422.8" y1="444.8" x2="422.8" y2="451.8" stroke="#1a1a1a" stroke-width="1.6"/>
<line x1="474.2" y1="444.8" x2="474.2" y2="451.8" stroke="#1a1a1a" stroke-width="1.6"/>
<line x1="524.2" y1="444.8" x2="524.2" y2="451.8" stroke="#1a1a1a" stroke-width="1.6"/>
<line x1="574.7" y1="444.8" x2="574.7" y2="451.8" stroke="#1a1a1a" stroke-width="1.6"/>
<line x1="624.7" y1="444.8" x2="624.7" y2="451.8" stroke="#1a1a1a" stroke-width="1.6"/>
<text x="60.25" y="478.5" font-size="16" textLength="19.5" lengthAdjust="spacingAndGlyphs" fill="#1a1a1a" stroke="#1a1a1a" stroke-width="0.35">-12</text>
<text x="123" y="478.5" font-size="16" text-anchor="middle" fill="#1a1a1a" stroke="#1a1a1a" stroke-width="0.35">-9</text>
<text x="175" y="478.5" font-size="16" text-anchor="middle" fill="#1a1a1a" stroke="#1a1a1a" stroke-width="0.35">-6</text>
<text x="227" y="478.5" font-size="16" text-anchor="middle" fill="#1a1a1a" stroke="#1a1a1a" stroke-width="0.35">-3</text>
<text x="272" y="478.5" font-size="16" text-anchor="middle" fill="#1a1a1a" stroke="#1a1a1a" stroke-width="0.35">3</text>
<text x="318.5" y="478.5" font-size="16" text-anchor="middle" fill="#1a1a1a" stroke="#1a1a1a" stroke-width="0.35">6</text>
<text x="366" y="478.5" font-size="16" text-anchor="middle" fill="#1a1a1a" stroke="#1a1a1a" stroke-width="0.35">9</text>
<text x="415" y="478.5" font-size="16" text-anchor="middle" fill="#1a1a1a" stroke="#1a1a1a" stroke-width="0.35">12</text>
<text x="466" y="478.5" font-size="16" text-anchor="middle" fill="#1a1a1a" stroke="#1a1a1a" stroke-width="0.35">15</text>
<text x="519" y="478.5" font-size="16" text-anchor="middle" fill="#1a1a1a" stroke="#1a1a1a" stroke-width="0.35">18</text>
<text x="562.75" y="478.5" font-size="16" textLength="14.5" lengthAdjust="spacingAndGlyphs" fill="#1a1a1a" stroke="#1a1a1a" stroke-width="0.35">21</text>
<text x="623" y="478.5" font-size="16" text-anchor="middle" fill="#1a1a1a" stroke="#1a1a1a" stroke-width="0.35">24</text>
</g>
<g transform="translate(677,500)">
<text x="72.4" y="28.3" font-size="17.5" font-weight="bold" textLength="141.8" lengthAdjust="spacingAndGlyphs" fill="#1a1a1a" stroke="#fff" stroke-width="0.25">CCQ-functioneel</text>
<text x="266.2" y="51.7" font-size="17" textLength="139" lengthAdjust="spacingAndGlyphs" fill="#1a1a1a" stroke="#1a1a1a" stroke-width="0.35">start exacerbatie</text>
<line x1="430.6" y1="78.5" x2="513" y2="78.5" stroke="#0d5e80" stroke-width="2.8"/>
<rect x="453.9" y="73.7" width="9.6" height="9.6" fill="#0d5e80"/>
<rect x="483.8" y="73.7" width="9.6" height="9.6" fill="#0d5e80"/>
<line x1="430.6" y1="117.9" x2="513" y2="117.9" stroke="#a2c0d0" stroke-width="2.8"/>
<circle cx="458.7" cy="117.9" r="4.2" fill="#a2c0d0"/>
<circle cx="488.6" cy="117.9" r="4.2" fill="#a2c0d0"/>
<text x="526.3" y="85.6" font-size="17.5" textLength="119" lengthAdjust="spacingAndGlyphs" fill="#1a1a1a" stroke="#1a1a1a" stroke-width="0.35">Controlegroep</text>
<text x="527.3" y="124.2" font-size="17.5" textLength="138" lengthAdjust="spacingAndGlyphs" fill="#1a1a1a" stroke="#1a1a1a" stroke-width="0.35">Interventiegroep</text>
<path d="M49.1 46.7V451.8H643.3" fill="none" stroke="#1a1a1a" stroke-width="2"/>
<line x1="49.1" y1="66.9" x2="56.2" y2="66.9" stroke="#1a1a1a" stroke-width="1.6"/>
<text x="39" y="71.4" font-size="16.5" text-anchor="end" fill="#1a1a1a" stroke="#1a1a1a" stroke-width="0.35">4,2</text>
<line x1="49.1" y1="113.8" x2="56.2" y2="113.8" stroke="#1a1a1a" stroke-width="1.6"/>
<text x="39" y="118.3" font-size="16.5" text-anchor="end" fill="#1a1a1a" stroke="#1a1a1a" stroke-width="0.35">4,0</text>
<line x1="49.1" y1="157.1" x2="56.2" y2="157.1" stroke="#1a1a1a" stroke-width="1.6"/>
<text x="39" y="161.6" font-size="16.5" text-anchor="end" fill="#1a1a1a" stroke="#1a1a1a" stroke-width="0.35">3,8</text>
<line x1="49.1" y1="209.7" x2="56.2" y2="209.7" stroke="#1a1a1a" stroke-width="1.6"/>
<text x="39" y="214.2" font-size="16.5" text-anchor="end" fill="#1a1a1a" stroke="#1a1a1a" stroke-width="0.35">3,6</text>
<line x1="49.1" y1="258.8" x2="56.2" y2="258.8" stroke="#1a1a1a" stroke-width="1.6"/>
<text x="39" y="263.3" font-size="16.5" text-anchor="end" fill="#1a1a1a" stroke="#1a1a1a" stroke-width="0.35">3,4</text>
<line x1="49.1" y1="303.2" x2="56.2" y2="303.2" stroke="#1a1a1a" stroke-width="1.6"/>
<text x="39" y="307.7" font-size="16.5" text-anchor="end" fill="#1a1a1a" stroke="#1a1a1a" stroke-width="0.35">3,2</text>
<line x1="49.1" y1="351.8" x2="56.2" y2="351.8" stroke="#1a1a1a" stroke-width="1.6"/>
<text x="39" y="356.3" font-size="16.5" text-anchor="end" fill="#1a1a1a" stroke="#1a1a1a" stroke-width="0.35">3,0</text>
<line x1="49.1" y1="396.7" x2="56.2" y2="396.7" stroke="#1a1a1a" stroke-width="1.6"/>
<text x="39" y="401.2" font-size="16.5" text-anchor="end" fill="#1a1a1a" stroke="#1a1a1a" stroke-width="0.35">2,8</text>
<text x="39" y="456.1" font-size="16.5" text-anchor="end" fill="#1a1a1a" stroke="#1a1a1a" stroke-width="0.35">2,6</text>
<line x1="74.1" y1="444.8" x2="74.1" y2="451.8" stroke="#1a1a1a" stroke-width="1.6"/>
<line x1="124.2" y1="444.8" x2="124.2" y2="451.8" stroke="#1a1a1a" stroke-width="1.6"/>
<line x1="175.4" y1="444.8" x2="175.4" y2="451.8" stroke="#1a1a1a" stroke-width="1.6"/>
<line x1="224" y1="444.8" x2="224" y2="451.8" stroke="#1a1a1a" stroke-width="1.6"/>
<line x1="272.3" y1="444.8" x2="272.3" y2="451.8" stroke="#1a1a1a" stroke-width="1.6"/>
<line x1="324" y1="444.8" x2="324" y2="451.8" stroke="#1a1a1a" stroke-width="1.6"/>
<line x1="374.3" y1="444.8" x2="374.3" y2="451.8" stroke="#1a1a1a" stroke-width="1.6"/>
<line x1="422.8" y1="444.8" x2="422.8" y2="451.8" stroke="#1a1a1a" stroke-width="1.6"/>
<line x1="474.2" y1="444.8" x2="474.2" y2="451.8" stroke="#1a1a1a" stroke-width="1.6"/>
<line x1="524.2" y1="444.8" x2="524.2" y2="451.8" stroke="#1a1a1a" stroke-width="1.6"/>
<line x1="574.7" y1="444.8" x2="574.7" y2="451.8" stroke="#1a1a1a" stroke-width="1.6"/>
<line x1="624.7" y1="444.8" x2="624.7" y2="451.8" stroke="#1a1a1a" stroke-width="1.6"/>
<text x="60.25" y="478.5" font-size="16" textLength="19.5" lengthAdjust="spacingAndGlyphs" fill="#1a1a1a" stroke="#1a1a1a" stroke-width="0.35">-12</text>
<text x="123" y="478.5" font-size="16" text-anchor="middle" fill="#1a1a1a" stroke="#1a1a1a" stroke-width="0.35">-9</text>
<text x="175" y="478.5" font-size="16" text-anchor="middle" fill="#1a1a1a" stroke="#1a1a1a" stroke-width="0.35">-6</text>
<text x="227" y="478.5" font-size="16" text-anchor="middle" fill="#1a1a1a" stroke="#1a1a1a" stroke-width="0.35">-3</text>
<text x="272" y="478.5" font-size="16" text-anchor="middle" fill="#1a1a1a" stroke="#1a1a1a" stroke-width="0.35">3</text>
<text x="318.5" y="478.5" font-size="16" text-anchor="middle" fill="#1a1a1a" stroke="#1a1a1a" stroke-width="0.35">6</text>
<text x="366" y="478.5" font-size="16" text-anchor="middle" fill="#1a1a1a" stroke="#1a1a1a" stroke-width="0.35">9</text>
<text x="415" y="478.5" font-size="16" text-anchor="middle" fill="#1a1a1a" stroke="#1a1a1a" stroke-width="0.35">12</text>
<text x="466" y="478.5" font-size="16" text-anchor="middle" fill="#1a1a1a" stroke="#1a1a1a" stroke-width="0.35">15</text>
<text x="519" y="478.5" font-size="16" text-anchor="middle" fill="#1a1a1a" stroke="#1a1a1a" stroke-width="0.35">18</text>
<text x="562.75" y="478.5" font-size="16" textLength="14.5" lengthAdjust="spacingAndGlyphs" fill="#1a1a1a" stroke="#1a1a1a" stroke-width="0.35">21</text>
<text x="623" y="478.5" font-size="16" text-anchor="middle" fill="#1a1a1a" stroke="#1a1a1a" stroke-width="0.35">24</text>
</g>
</svg></body></html>
